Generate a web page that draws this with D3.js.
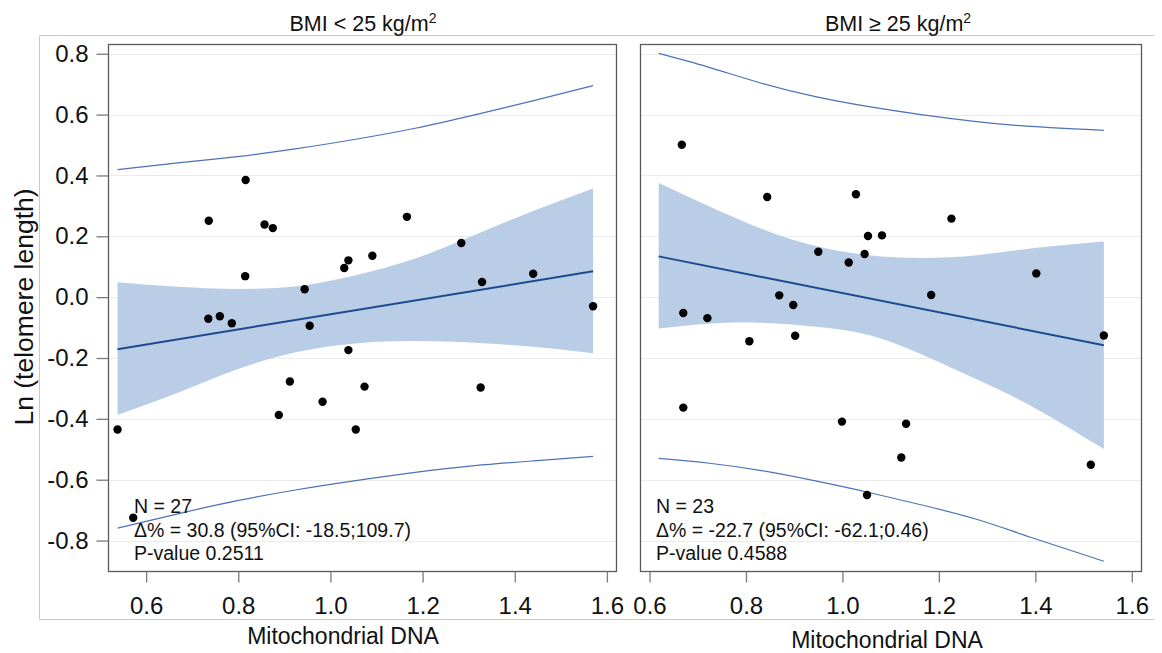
<!DOCTYPE html>
<html>
<head>
<meta charset="utf-8">
<script src="https://cdn.jsdelivr.net/npm/d3@7"></script>
<style>
  html, body { margin: 0; padding: 0; background: #fff; }
  svg { display: block; font-family: "Liberation Sans", Arial, Helvetica, sans-serif; }
</style>
</head>
<body>
<svg id="chart" width="1162" height="653"></svg>
<script>
// ---- BMI < 25 kg/m2: observations ----
const lowMtDNA = [0.736, 0.816, 0.857, 0.875, 1.166, 1.284, 0.815, 1.030, 1.039, 1.091,
                  0.944, 1.329, 1.440, 1.570, 0.735, 0.760, 0.786, 0.955, 1.039, 0.912,
                  1.074, 1.326, 0.983, 0.888, 0.538, 1.055, 0.572];
const lowLnTL  = [0.251, 0.385, 0.239, 0.227, 0.264, 0.178, 0.069, 0.096, 0.121, 0.136,
                  0.026, 0.050, 0.077, -0.030, -0.071, -0.063, -0.086, -0.094, -0.174, -0.277,
                  -0.294, -0.297, -0.344, -0.387, -0.435, -0.435, -0.725];

// ---- BMI < 25 kg/m2: fitted line, 95% confidence band, 95% prediction limits ----
const lowFitX   = [0.538, 1.570];
const lowFitY   = [-0.171, 0.085];
const lowBandX  = [0.538, 0.669, 0.798, 0.927, 1.055, 1.184, 1.313, 1.441, 1.570];
const lowClUp   = [0.049, 0.034, 0.027, 0.036, 0.072, 0.127, 0.204, 0.284, 0.357];
const lowClLow  = [-0.387, -0.314, -0.237, -0.180, -0.152, -0.144, -0.150, -0.163, -0.184];
const lowPiUp   = [0.419, 0.441, 0.462, 0.488, 0.519, 0.555, 0.599, 0.646, 0.695];
const lowPiLow  = [-0.759, -0.712, -0.669, -0.633, -0.603, -0.576, -0.554, -0.538, -0.523];

// ---- BMI >= 25 kg/m2: observations ----
const highMtDNA = [0.667, 0.844, 1.028, 1.226, 1.053, 1.082, 0.950, 1.046, 1.013, 1.402,
                   1.184, 0.869, 0.898, 0.670, 0.720, 0.807, 0.902, 1.542, 0.670, 0.999,
                   1.132, 1.122, 1.515, 1.051];
const highLnTL  = [0.501, 0.329, 0.338, 0.258, 0.201, 0.203, 0.149, 0.142, 0.114, 0.078,
                   0.007, 0.006, -0.026, -0.052, -0.069, -0.145, -0.127, -0.126, -0.363, -0.409,
                   -0.416, -0.527, -0.551, -0.650];

// ---- BMI >= 25 kg/m2: fitted line, 95% confidence band, 95% prediction limits ----
const highFitX  = [0.619, 1.542];
const highFitY  = [0.134, -0.158];
const highBandX = [0.619, 0.720, 0.832, 0.944, 1.055, 1.167, 1.278, 1.390, 1.542];
const highClUp  = [0.375, 0.301, 0.225, 0.168, 0.138, 0.129, 0.138, 0.160, 0.183];
const highClLow = [-0.103, -0.087, -0.084, -0.097, -0.124, -0.190, -0.270, -0.357, -0.499];
const highPiUp  = [0.801, 0.757, 0.703, 0.659, 0.626, 0.599, 0.577, 0.561, 0.548];
const highPiLow = [-0.530, -0.545, -0.570, -0.604, -0.642, -0.684, -0.730, -0.789, -0.868];

// ---- axes and text ----
const xTicks = [0.6, 0.8, 1.0, 1.2, 1.4, 1.6];
const yTicks = [-0.8, -0.6, -0.4, -0.2, 0.0, 0.2, 0.4, 0.6, 0.8];
const panelTitles = ["BMI < 25 kg/m", "BMI \u2265 25 kg/m"];
const titleSup = "2";
const xLabel = "Mitochondrial DNA";
const yLabel = "Ln (telomere length)";
const lowStats  = ["N = 27", "\u0394% = 30.8 (95%CI: -18.5;109.7)", "P-value 0.2511"];
const highStats = ["N = 23", "\u0394% = -22.7 (95%CI: -62.1;0.46)", "P-value 0.4588"];

// ---- drawing ----
const svg = d3.select("#chart");
const fmt = d => d.toFixed(1);

const FRAME_TOP = 44, FRAME_BOTTOM = 571;
const y = d3.scaleLinear().domain([-0.9, 0.832]).range([FRAME_BOTTOM, FRAME_TOP]);

const COLORS = {
  band: "#b9cde7",
  fit: "#1d4a8e",
  limit: "#4d72b6",
  grid: "#ebebeb",
  frame: "#5a5a5a",
  tick: "#7a7a7a",
  wall: "#c9c9c9"
};

// outer wall lines (top, left, bottom)
const wall = svg.append("g").attr("stroke", COLORS.wall).attr("stroke-width", 1).attr("fill", "none");
wall.append("line").attr("x1", 39.5).attr("x2", 1154).attr("y1", 35.5).attr("y2", 35.5);
wall.append("line").attr("x1", 39.5).attr("x2", 1154).attr("y1", 619.5).attr("y2", 619.5);
wall.append("line").attr("x1", 39.5).attr("x2", 39.5).attr("y1", 35.5).attr("y2", 619.5);

const panels = [
  {
    left: 108.5, right: 616.5, domain: [0.5184, 1.6208],
    title: panelTitles[0], titleX: 363,
    labelX: 343, labelY: 644,
    statsX: 134,
    mx: lowMtDNA, my: lowLnTL,
    fitX: lowFitX, fitY: lowFitY,
    bandX: lowBandX, clUp: lowClUp, clLow: lowClLow, piUp: lowPiUp, piLow: lowPiLow,
    stats: lowStats, yAxis: true
  },
  {
    left: 640.5, right: 1141.5, domain: [0.5813, 1.6201],
    title: panelTitles[1], titleX: 898,
    labelX: 887, labelY: 648,
    statsX: 656,
    mx: highMtDNA, my: highLnTL,
    fitX: highFitX, fitY: highFitY,
    bandX: highBandX, clUp: highClUp, clLow: highClLow, piUp: highPiUp, piLow: highPiLow,
    stats: highStats, yAxis: false
  }
];

panels.forEach(p => {
  const x = d3.scaleLinear().domain(p.domain).range([p.left, p.right]);
  const g = svg.append("g");

  // panel header
  const t = g.append("text")
    .attr("x", p.titleX).attr("y", 31)
    .attr("text-anchor", "middle")
    .attr("font-size", 21.5)
    .attr("fill", "#111");
  t.append("tspan").text(p.title);
  t.append("tspan").attr("font-size", 14).attr("dy", -8).text(titleSup);

  // horizontal grid
  g.append("g").selectAll("line").data(yTicks).join("line")
    .attr("x1", p.left).attr("x2", p.right)
    .attr("y1", d => Math.round(y(d)) + 0.5).attr("y2", d => Math.round(y(d)) + 0.5)
    .attr("stroke", COLORS.grid).attr("stroke-width", 1.2);

  // 95% confidence band
  const band = p.bandX.map((v, i) => ({ x: v, lo: p.clLow[i], hi: p.clUp[i] }));
  g.append("path").datum(band)
    .attr("fill", COLORS.band)
    .attr("d", d3.area().curve(d3.curveNatural)
      .x(d => x(d.x)).y0(d => y(d.lo)).y1(d => y(d.hi)));

  // 95% prediction limits
  const lineGen = d3.line().curve(d3.curveNatural).x(d => x(d[0])).y(d => y(d[1]));
  [p.piUp, p.piLow].forEach(arr => {
    g.append("path").datum(p.bandX.map((v, i) => [v, arr[i]]))
      .attr("fill", "none").attr("stroke", COLORS.limit).attr("stroke-width", 1.2)
      .attr("d", lineGen);
  });

  // fitted regression line
  g.append("path").datum(p.fitX.map((v, i) => [v, p.fitY[i]]))
    .attr("fill", "none").attr("stroke", COLORS.fit).attr("stroke-width", 2)
    .attr("d", d3.line().x(d => x(d[0])).y(d => y(d[1])));

  // observations
  g.append("g").selectAll("circle").data(p.mx.map((v, i) => [v, p.my[i]])).join("circle")
    .attr("cx", d => x(d[0])).attr("cy", d => y(d[1]))
    .attr("r", 4.2).attr("fill", "#000");

  // frame
  g.append("rect")
    .attr("x", p.left).attr("y", FRAME_TOP + 0.5)
    .attr("width", p.right - p.left).attr("height", FRAME_BOTTOM - FRAME_TOP)
    .attr("fill", "none").attr("stroke", COLORS.frame).attr("stroke-width", 1.3);

  // x axis
  const xa = g.append("g").attr("transform", `translate(0,${FRAME_BOTTOM + 0.5})`)
    .call(d3.axisBottom(x).tickValues(xTicks).tickFormat(fmt).tickSize(11).tickSizeOuter(0).tickPadding(14));
  xa.select(".domain").remove();
  xa.selectAll(".tick line").attr("stroke", COLORS.tick).attr("stroke-width", 1.3);
  xa.selectAll(".tick text").attr("font-size", 24).attr("fill", "#111")
    .attr("font-family", "Liberation Sans, Arial, sans-serif");

  // y axis (first column only)
  if (p.yAxis) {
    const ya = g.append("g").attr("transform", `translate(${p.left},0)`)
      .call(d3.axisLeft(y).tickValues(yTicks).tickFormat(fmt).tickSize(12).tickSizeOuter(0).tickPadding(8));
    ya.select(".domain").remove();
    ya.selectAll(".tick line").attr("stroke", COLORS.tick).attr("stroke-width", 1.3);
    ya.selectAll(".tick text").attr("font-size", 24).attr("fill", "#111")
      .attr("font-family", "Liberation Sans, Arial, sans-serif");
  }

  // x axis label
  g.append("text")
    .attr("x", p.labelX).attr("y", p.labelY)
    .attr("text-anchor", "middle").attr("font-size", 23).attr("fill", "#111")
    .text(xLabel);

  // summary statistics
  g.append("g").selectAll("text").data(p.stats).join("text")
    .attr("x", p.statsX).attr("y", (d, i) => 513 + i * 23.5)
    .attr("font-size", 19.5).attr("fill", "#111")
    .text(d => d);
});

// y axis label
svg.append("text")
  .attr("transform", "translate(33,307) rotate(-90)")
  .attr("text-anchor", "middle")
  .attr("font-size", 26.5).attr("fill", "#111")
  .text(yLabel);
</script>
</body>
</html>
